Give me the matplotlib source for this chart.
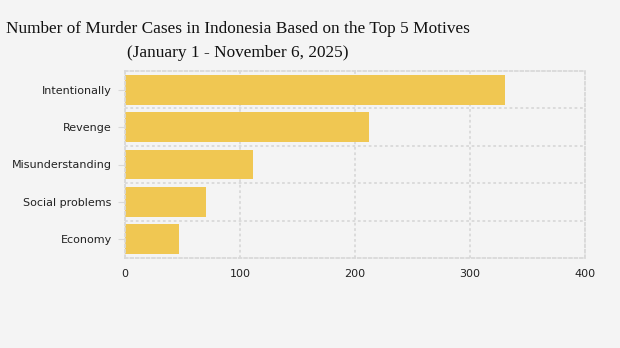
import matplotlib.pyplot as plt

# data
motives = ['Intentionally', 'Revenge', 'Misunderstanding', 'Social problems', 'Economy']
cases = [330, 212, 111, 70, 47]
x_ticks = [0, 100, 200, 300, 400]

bg = '#f4f4f4'
bar_color = '#f0c752'
grid_color = '#d9d9d9'
dots = (0, (1.5, 1.5))

fig = plt.figure(figsize=(6.2, 3.48), dpi=100, facecolor=bg)
ax = fig.add_axes([125 / 620, 90 / 348, 460 / 620, 187 / 348], facecolor=bg)

y = list(range(len(motives)))
ax.barh(y, cases, height=0.8, color=bar_color, zorder=2)
ax.set_ylim(len(motives) - 0.5, -0.5)
ax.set_xlim(0, 400)

ax.set_yticks(y)
ax.set_yticklabels(motives)
ax.set_xticks(x_ticks)
ax.set_yticks([i + 0.5 for i in range(len(motives) - 1)], minor=True)

ax.grid(axis='x', which='major', color=grid_color, linestyle=dots, linewidth=1.3, zorder=0)
ax.grid(axis='y', which='minor', color=grid_color, linestyle=dots, linewidth=1.3, zorder=0)
ax.tick_params(axis='y', which='minor', length=0)
ax.tick_params(axis='y', which='major', length=5, color=grid_color, pad=4.5, labelsize=8, labelcolor='#222222')
ax.tick_params(axis='x', length=0, pad=8, labelsize=8, labelcolor='#222222')

for s in ax.spines.values():
    s.set_color(grid_color)
    s.set_linestyle(dots)
    s.set_linewidth(1.3)

fig.text(6 / 620, 1 - 41 / 348,
         'Number of Murder Cases in Indonesia Based on the Top 5 Motives\n(January 1 - November 6, 2025)',
         ha='left', va='center', multialignment='center', fontsize=12.4,
         family='Liberation Serif', color='#111111', linespacing=1.65)

fig.savefig('out.png', dpi=100, facecolor=bg)
